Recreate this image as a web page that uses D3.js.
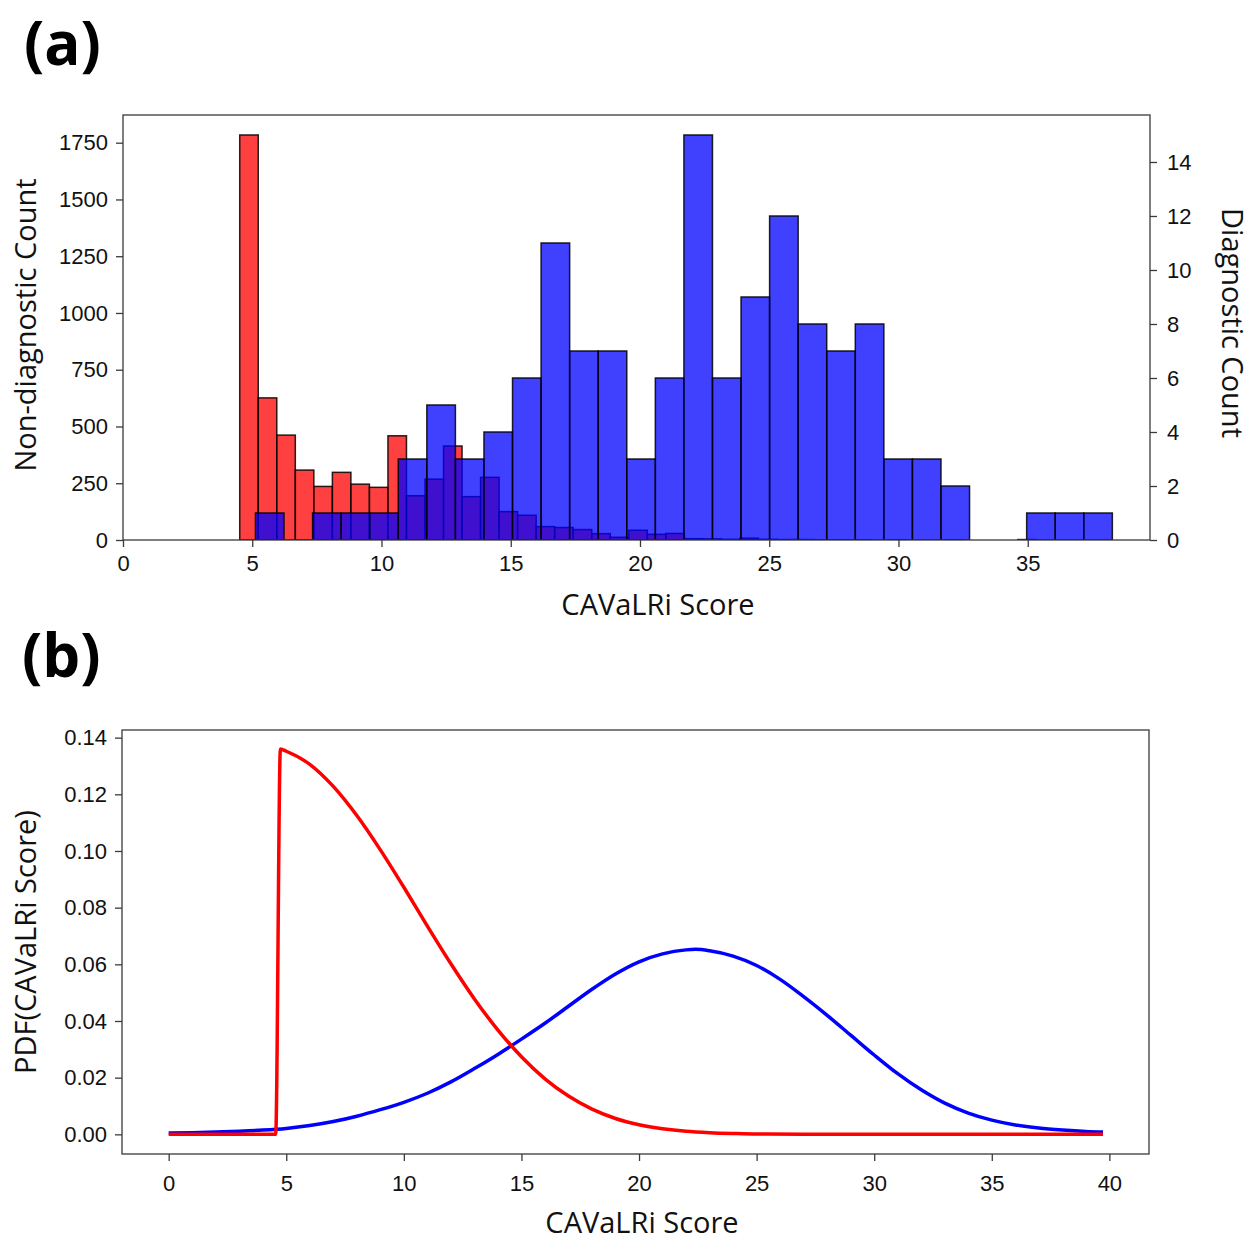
<!DOCTYPE html>
<html>
<head>
<meta charset="utf-8">
<script src="https://cdn.jsdelivr.net/npm/d3@7"></script>
<style>
  body { margin: 0; background: #fff; }
  svg { font-family: "Open Sans", sans-serif; }
</style>
</head>
<body>
<svg width="1254" height="1241"></svg>
<script>
// ---- (a) histograms ----
// non-diagnostic (red, left axis): bins of equal width starting at redBinStart
const redBinStart = 4.516;
const redBinWidth = 0.7167;
const redCounts = [1784, 626, 462, 308, 236, 298, 246, 232, 459, 195,
                   268, 414, 191, 276, 125, 109, 59, 55, 46, 28,
                   12, 43, 25, 29, 6, 5, 3, 8, 3, 2,
                   2, 1, 1, 1, 0, 1, 0, 0, 1, 0,
                   0, 0, 2];
// diagnostic (blue, right axis)
const blueBinStart = 5.124;
const blueBinWidth = 1.105;
const blueCounts = [1, 0, 1, 1, 1, 3, 5, 3, 4, 6,
                    11, 7, 7, 3, 6, 15, 6, 9, 12, 8,
                    7, 8, 3, 3, 2, 0, 0, 1, 1, 1];

const xTicksA = [0, 5, 10, 15, 20, 25, 30, 35];
const yTicksLeft = [0, 250, 500, 750, 1000, 1250, 1500, 1750];
const yTicksRight = [0, 2, 4, 6, 8, 10, 12, 14];

// ---- (b) PDF curves ----
const redX   = [0, 4.55, 4.75, 5, 6, 7, 8, 9, 10, 11, 12, 13, 14, 15, 16, 17, 18, 19, 20,
                21, 22, 23, 24, 25, 27, 30, 35, 39.73];
const redPdf = [0, 0, 0.1360, 0.1352, 0.1306, 0.1228, 0.1125, 0.1004, 0.0872, 0.0735, 0.0602,
                0.0478, 0.0368, 0.0274, 0.0196, 0.0135, 0.0089, 0.0056, 0.0034, 0.0020, 0.0011,
                0.0006, 0.0003, 0.0001, 0.00005, 0, 0, 0];
const blueX   = [0, 1, 2, 3, 4, 5, 6, 7, 8, 9, 10, 11, 12, 13, 14, 15, 16, 17, 18, 19, 20,
                 21, 22, 22.4, 23, 24, 25, 26, 27, 28, 29, 30, 31, 32, 33, 34, 35, 36, 37, 38, 39, 39.73];
const bluePdf = [0.0005, 0.0006, 0.0008, 0.0011, 0.0015, 0.0021, 0.0031, 0.0045, 0.0064, 0.0087,
                 0.0113, 0.0145, 0.0185, 0.0232, 0.0282, 0.0336, 0.0392, 0.0452, 0.0512, 0.0566,
                 0.0609, 0.0637, 0.0651, 0.0653, 0.0648, 0.0629, 0.0596, 0.0547, 0.0486, 0.0420,
                 0.0350, 0.0280, 0.0214, 0.0157, 0.0110, 0.0075, 0.0050, 0.0033, 0.0022, 0.0015,
                 0.0010, 0.0008];

const xTicksB = [0, 5, 10, 15, 20, 25, 30, 35, 40];
const yTicksB = [0, 0.02, 0.04, 0.06, 0.08, 0.10, 0.12, 0.14];

const svg = d3.select("svg");
const axisColor = "#3a3a3a";
const tickFont = 22;
const labelFont = 29;

function styleAxis(g) {
    g.select(".domain").remove();
    g.selectAll(".tick line").attr("stroke", axisColor).attr("stroke-width", 1.3);
    g.selectAll(".tick text").attr("fill", "#111").style("font-size", tickFont + "px");
}

function frame(area) {
    svg.append("rect")
        .attr("x", area.left).attr("y", area.top)
        .attr("width", area.right - area.left)
        .attr("height", area.bottom - area.top)
        .attr("fill", "none")
        .attr("stroke", axisColor)
        .attr("stroke-width", 1.3);
}

function label(x, y, rot, txt) {
    svg.append("text")
        .attr("transform", `translate(${x},${y}) rotate(${rot})`)
        .attr("text-anchor", "middle")
        .attr("fill", "#111")
        .style("font-size", labelFont + "px")
        .text(txt);
}

function drawBars(g, counts, start, width, scX, scY, color) {
    g.selectAll("rect")
        .data(counts)
        .enter()
        .append("rect")
        .attr("x", (d, i) => scX(start + i * width))
        .attr("width", (d, i) => scX(start + (i + 1) * width) - scX(start + i * width))
        .attr("y", d => scY(d))
        .attr("height", d => scY(0) - scY(d))
        .attr("fill", color)
        .attr("fill-opacity", 0.75)
        .attr("stroke", "#000")
        .attr("stroke-opacity", d => d > 0 ? 0.85 : 0)
        .attr("stroke-width", 1.5);
}

// ================= panel (a) =================
function drawPanelA() {
    const area = { left: 123, top: 115, right: 1150, bottom: 540 };

    const scX = d3.scaleLinear().domain([0, 39.73]).range([area.left, area.right]);
    const scYL = d3.scaleLinear().domain([0, 1872]).range([area.bottom, area.top]);
    const scYR = d3.scaleLinear().domain([0, 15.74]).range([area.bottom, area.top]);

    svg.append("clipPath").attr("id", "clipA").append("rect")
        .attr("x", area.left).attr("y", area.top)
        .attr("width", area.right - area.left).attr("height", area.bottom - area.top);

    // red first, blue on top (the twin axes is drawn last)
    drawBars(svg.append("g").attr("clip-path", "url(#clipA)"),
        redCounts, redBinStart, redBinWidth, scX, scYL, "#ff0000");
    drawBars(svg.append("g").attr("clip-path", "url(#clipA)"),
        blueCounts, blueBinStart, blueBinWidth, scX, scYR, "#0000ff");

    svg.append("g")
        .attr("transform", `translate(0,${area.bottom})`)
        .call(d3.axisBottom(scX).tickValues(xTicksA).tickSize(7).tickPadding(8))
        .call(styleAxis);
    svg.append("g")
        .attr("transform", `translate(${area.left},0)`)
        .call(d3.axisLeft(scYL).tickValues(yTicksLeft).tickFormat(d3.format("d")).tickSize(7).tickPadding(8))
        .call(styleAxis);
    svg.append("g")
        .attr("transform", `translate(${area.right},0)`)
        .call(d3.axisRight(scYR).tickValues(yTicksRight).tickSize(7).tickPadding(10))
        .call(styleAxis);

    frame(area);

    label(658, 615, 0, "CAVaLRi Score");
    label(36, 325, -90, "Non-diagnostic Count");
    label(1222, 323, 90, "Diagnostic Count");

    svg.append("text")
        .attr("x", 24).attr("y", 65)
        .style("font-size", "60px").style("font-weight", "bold")
        .text("(a)");
}

// ================= panel (b) =================
function drawPanelB() {
    const area = { left: 122, top: 730, right: 1149, bottom: 1154 };

    const scX = d3.scaleLinear().domain([-1.985, 41.685]).range([area.left, area.right]);
    const scY = d3.scaleLinear().domain([-0.00694, 0.1427]).range([area.bottom, area.top]);

    const line = d3.line().curve(d3.curveMonotoneX);

    svg.append("path")
        .datum(blueX.map((x, i) => [scX(x), scY(bluePdf[i])]))
        .attr("d", line)
        .attr("fill", "none")
        .attr("stroke", "#0000ff")
        .attr("stroke-width", 3.5);
    svg.append("path")
        .datum(redX.map((x, i) => [scX(x), scY(redPdf[i])]))
        .attr("d", line)
        .attr("fill", "none")
        .attr("stroke", "#ff0000")
        .attr("stroke-width", 3.5);

    svg.append("g")
        .attr("transform", `translate(0,${area.bottom})`)
        .call(d3.axisBottom(scX).tickValues(xTicksB).tickSize(7).tickPadding(14))
        .call(styleAxis);
    svg.append("g")
        .attr("transform", `translate(${area.left},0)`)
        .call(d3.axisLeft(scY).tickValues(yTicksB).tickFormat(d3.format(".2f")).tickSize(7).tickPadding(8))
        .call(styleAxis);

    frame(area);

    label(642, 1233, 0, "CAVaLRi Score");
    label(36, 942, -90, "PDF(CAVaLRi Score)");

    svg.append("text")
        .attr("x", 22).attr("y", 677)
        .style("font-size", "60px").style("font-weight", "bold")
        .text("(b)");
}

drawPanelA();
drawPanelB();
</script>
</body>
</html>
